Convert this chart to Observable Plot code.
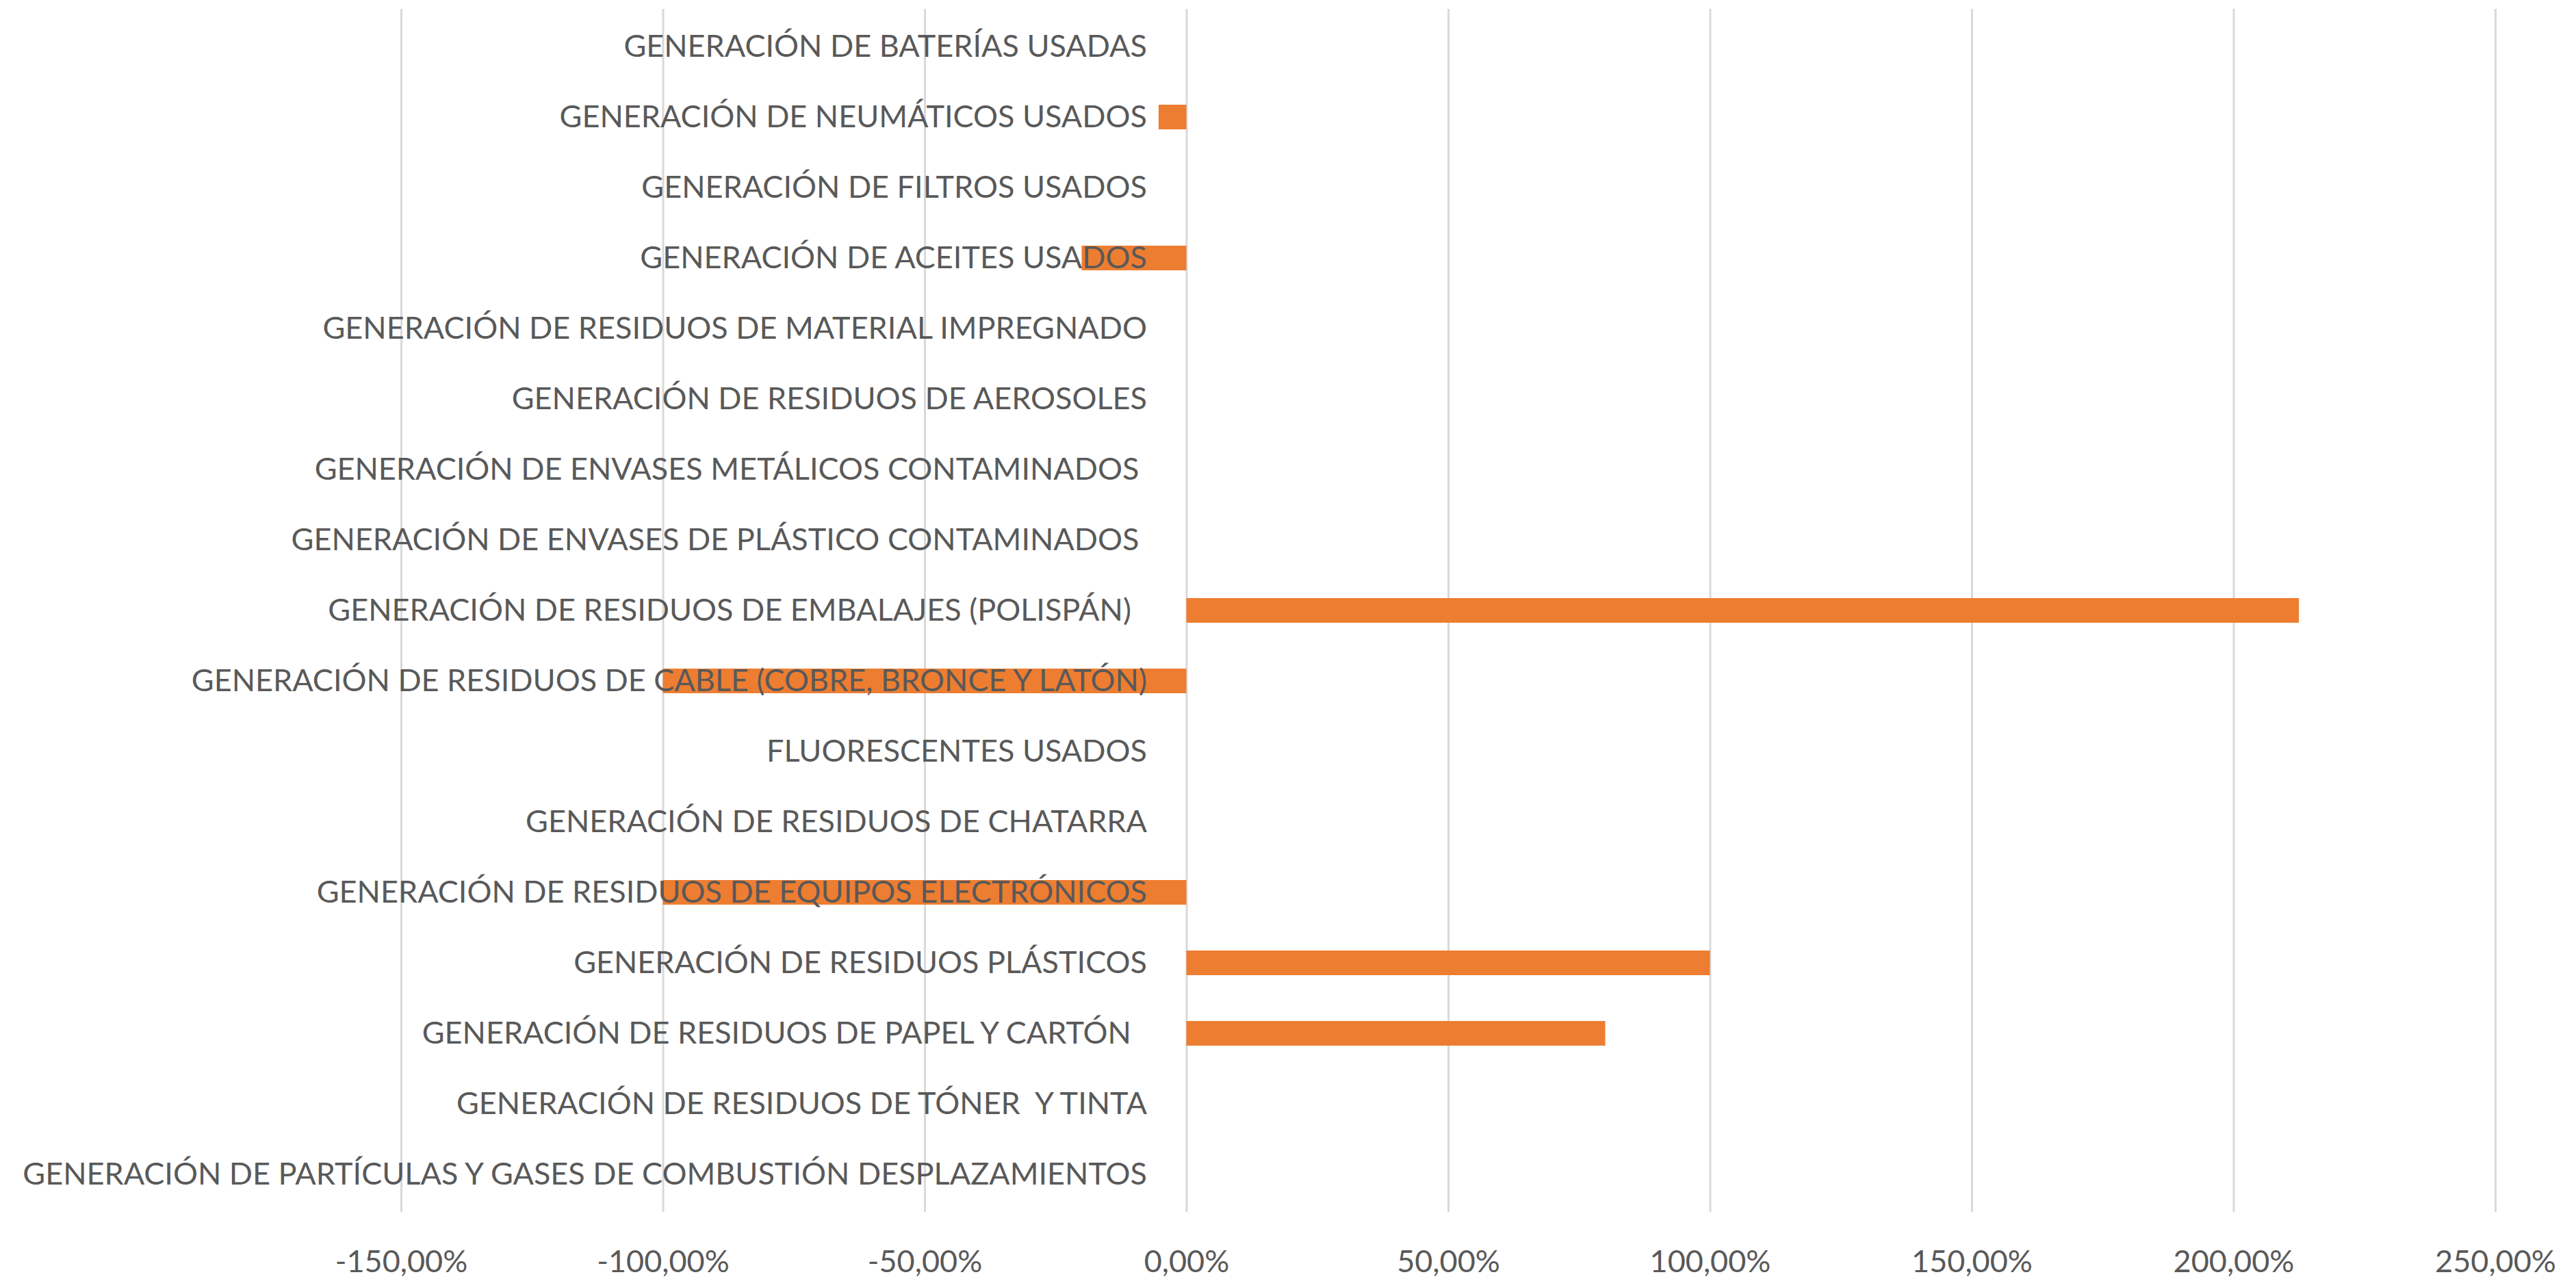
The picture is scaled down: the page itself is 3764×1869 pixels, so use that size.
<!DOCTYPE html>
<html>
<head>
<meta charset="utf-8">
<script src="https://cdn.jsdelivr.net/npm/d3@7"></script>
<script src="https://cdn.jsdelivr.net/npm/@observablehq/plot@0.6"></script>
<style>
  html, body { margin: 0; padding: 0; background: #ffffff; overflow: hidden; }
  svg text { white-space: pre; }
</style>
</head>
<body>
<div id="chart"></div>
<script>
const categories = [
  "GENERACIÓN DE BATERÍAS USADAS",
  "GENERACIÓN DE NEUMÁTICOS USADOS",
  "GENERACIÓN DE FILTROS USADOS",
  "GENERACIÓN DE ACEITES USADOS",
  "GENERACIÓN DE RESIDUOS DE MATERIAL IMPREGNADO",
  "GENERACIÓN DE RESIDUOS DE AEROSOLES",
  "GENERACIÓN DE ENVASES METÁLICOS CONTAMINADOS ",
  "GENERACIÓN DE ENVASES DE PLÁSTICO CONTAMINADOS ",
  "GENERACIÓN DE RESIDUOS DE EMBALAJES (POLISPÁN)  ",
  "GENERACIÓN DE RESIDUOS DE CABLE (COBRE, BRONCE Y LATÓN)",
  "FLUORESCENTES USADOS",
  "GENERACIÓN DE RESIDUOS DE CHATARRA",
  "GENERACIÓN DE RESIDUOS DE EQUIPOS ELECTRÓNICOS",
  "GENERACIÓN DE RESIDUOS PLÁSTICOS",
  "GENERACIÓN DE RESIDUOS DE PAPEL Y CARTÓN  ",
  "GENERACIÓN DE RESIDUOS DE TÓNER  Y TINTA",
  "GENERACIÓN DE PARTÍCULAS Y GASES DE COMBUSTIÓN DESPLAZAMIENTOS"
];
const values = [0, -5.3, 0, -20, 0, 0, 0, 0, 212.5, -100, 0, 0, -100, 100, 80, 0, 0];
const xTicks = [-150, -100, -50, 0, 50, 100, 150, 200, 250];
const baseline = 0;

const data = categories.map((c, i) => ({cat: c, value: values[i], base: baseline}));
const fmt = d => d.toFixed(2).replace(".", ",") + "%";

const chart = Plot.plot({
  width: 3764,
  height: 1869,
  marginLeft: 586,
  marginRight: 118,
  marginTop: 13,
  marginBottom: 98,
  style: {fontFamily: "Lato, 'Open Sans', sans-serif", fontSize: "45px", color: "#595959", background: "#ffffff", overflow: "visible"},
  x: {domain: [-150, 250], ticks: xTicks, tickFormat: fmt},
  y: {domain: categories, paddingInner: 0.65, paddingOuter: 0.325, axis: null},
  marks: [
    Plot.gridX(xTicks, {stroke: "#D9D9D9", strokeOpacity: 1, strokeWidth: 3}),
    Plot.barX(data, {x: "value", y: "cat", fill: "#ED7D31"}),
    Plot.text(data, {x: "base", y: "cat", text: "cat", textAnchor: "end", dx: -58, fill: "#595959"}),
    Plot.axisX(xTicks, {tickSize: 0, tickPadding: 56, tickFormat: fmt, fill: "#595959"})
  ]
});
document.getElementById("chart").append(chart);
</script>
</body>
</html>
